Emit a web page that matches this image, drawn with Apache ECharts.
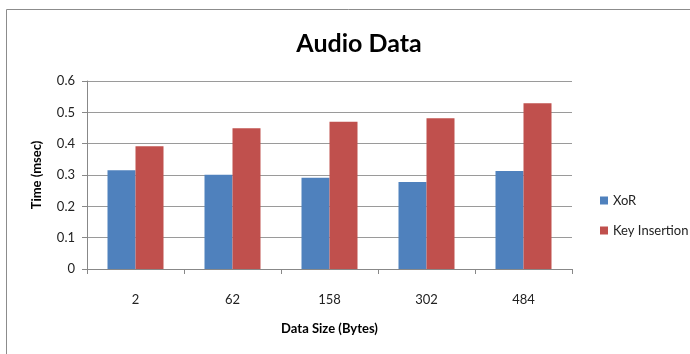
<!DOCTYPE html>
<html>
<head>
<meta charset="utf-8">
<script src="https://cdn.jsdelivr.net/npm/echarts@6/dist/echarts.min.js"></script>
<style>
    html, body { margin: 0; padding: 0; background: #fff; }
    #chart { width: 690px; height: 354px; }
</style>
</head>
<body>
<div id="chart"></div>
<script>
const sizes = ['2', '62', '158', '302', '484']
const xorTimes = [0.315, 0.301, 0.291, 0.278, 0.313]
const keyInsertionTimes = [0.392, 0.449, 0.470, 0.481, 0.529]
const seriesNames = ['XoR', 'Key Insertion']
const colors = ['#4F81BD', '#C0504D']
const font = 'Lato, "Open Sans", sans-serif'

const chart = echarts.init(document.getElementById('chart'))

const option = {
    backgroundColor: '#fff',
    animation: false,
    textStyle: { fontFamily: font },
    graphic: [{
        type: 'rect',
        shape: { x: 6.5, y: 9.5, width: 700, height: 360 },
        style: { fill: 'none', stroke: '#8c8c8c', lineWidth: 1 },
        z: -1
    }],
    title: {
        text: 'Audio Data',
        left: 354,
        textAlign: 'center',
        top: 26,
        textStyle: { fontSize: 25, fontWeight: 'bold', color: '#000', fontFamily: font }
    },
    legend: {
        orient: 'vertical',
        left: 595,
        top: 189,
        itemWidth: 8,
        itemHeight: 8,
        itemGap: 17,
        icon: 'rect',
        textStyle: { fontSize: 13, color: '#222', fontFamily: font },
        data: seriesNames
    },
    grid: { left: 87, right: 118, top: 81, bottom: 85 },
    xAxis: {
        type: 'category',
        data: sizes,
        name: 'Data Size (Bytes)',
        nameLocation: 'middle',
        nameGap: 53,
        nameTextStyle: { fontSize: 13, fontWeight: 'bold', color: '#000' },
        axisLine: { lineStyle: { color: '#888' } },
        axisTick: { show: true, length: 5, lineStyle: { color: '#888' } },
        axisLabel: { fontSize: 13, color: '#222', margin: 24 }
    },
    yAxis: {
        type: 'value',
        min: 0,
        max: 0.6,
        interval: 0.1,
        name: 'Time (msec)',
        nameLocation: 'middle',
        nameGap: 44,
        nameTextStyle: { fontSize: 13, fontWeight: 'bold', color: '#000' },
        axisLine: { show: true, lineStyle: { color: '#888' } },
        axisTick: { show: true, length: 5, lineStyle: { color: '#888' } },
        axisLabel: {
            fontSize: 13, color: '#222', margin: 12,
            formatter: v => v === 0 ? '0' : v.toFixed(1)
        },
        splitLine: { lineStyle: { color: '#9a9a9a', width: 1 } }
    },
    series: [
        {
            name: seriesNames[0],
            type: 'bar',
            data: xorTimes,
            barWidth: 28,
            barGap: 0,
            itemStyle: { color: colors[0] }
        },
        {
            name: seriesNames[1],
            type: 'bar',
            data: keyInsertionTimes,
            barWidth: 28,
            barGap: 0,
            itemStyle: { color: colors[1] }
        }
    ]
}

chart.setOption(option)
</script>
</body>
</html>
